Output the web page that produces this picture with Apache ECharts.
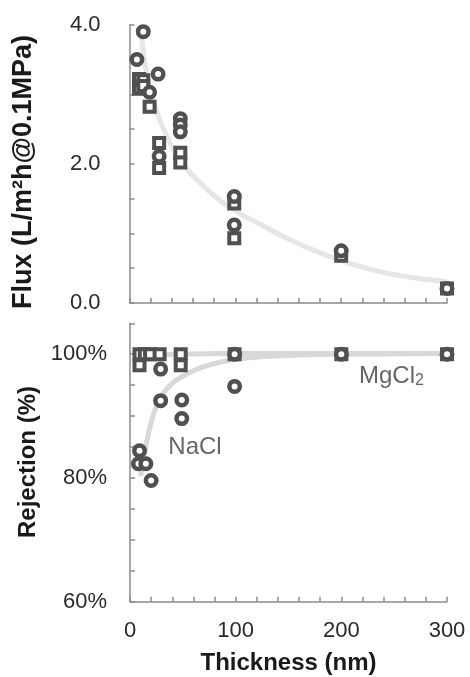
<!DOCTYPE html>
<html>
<head>
<meta charset="utf-8">
<script src="https://cdn.jsdelivr.net/npm/echarts@6/dist/echarts.min.js"></script>
<style>
html,body{margin:0;padding:0;background:#fff;}
#chart{width:470px;height:677px;}
</style>
</head>
<body>
<div id="chart"></div>
<script>
// ---- Data ----
const xTickLabels = [0, 100, 200, 300];
const fluxTickLabels = [0, 2, 4];
const rejTickLabels = [60, 80, 100];

// Top panel: flux vs thickness
const fluxCircles = [[13,3.90],[7,3.50],[27,3.29],[19,3.03],[48,2.65],[48,2.56],[48,2.46],[28,2.11],[99,1.53],[99,1.12],[200,0.75],[300,0.21]];
const fluxSquares = [[9,3.22],[9,3.08],[13,3.20],[13,3.12],[19,2.82],[28,2.30],[28,1.94],[48,2.16],[48,2.02],[99,1.43],[99,0.93],[200,0.68],[300,0.21]];
const fluxTrend = [[11.5,3.80],[15,3.40],[19,3.08],[25,2.78],[30,2.58],[40,2.25],[50,2.00],[70,1.68],[85,1.48],[100,1.32],[120,1.16],[150,0.92],[180,0.72],[210,0.56],[240,0.44],[270,0.36],[300,0.31]];

// Bottom panel: rejection vs thickness
const rejNaCl = [[29,97.6],[29,92.5],[49,92.6],[49,89.6],[99,94.8],[9,84.4],[8,82.3],[15,82.3],[20,79.6],[99,100],[200,100],[300,100]];
const rejMgCl2 = [[9,100],[14,100],[19,100],[28,100],[9,98.2],[48,100],[48,98.2],[99,100],[200,100],[300,100]];
const trendNaCl = [[10,80.3],[13,83.2],[16,86.0],[20,89.0],[25,91.6],[30,93.3],[40,95.3],[55,96.9],[70,98.0],[100,99.2],[150,99.8],[200,100],[300,100.1]];
const trendMgCl2 = [[8,99.1],[15,99.6],[30,99.9],[50,100],[100,100.1],[300,100.1]];

const fluxTitle = 'Flux (L/m\u00B2h@0.1MPa)';
const rejTitle = 'Rejection (%)';
const xTitle = 'Thickness (nm)';

// ---- Styles ----
const FONT = "'Liberation Sans', Arial, Helvetica, sans-serif";
const axisGrey = '#8c8c8c';
const markColor = '#505050';

const chart = echarts.init(document.getElementById('chart'), null, {renderer:'canvas'});

function xAxisCfg(gridIndex, showLabels) {
  return {
    type:'value', gridIndex, min:0, max:300, interval:20,
    axisLine:{show:true, onZero:false, lineStyle:{color:axisGrey, width:1.5}},
    axisTick:{show:true, inside:true, length:5, lineStyle:{color:axisGrey, width:1.5}},
    splitLine:{show:false},
    axisLabel:{show:showLabels, margin:18, fontFamily:FONT, fontSize:22, color:'#2a2a2a',
      showMinLabel:true, showMaxLabel:true,
      formatter:v => xTickLabels.includes(v) ? String(v) : ''}
  };
}

const option = {
  animation:false,
  backgroundColor:'#fff',
  grid:[
    {left:129.5, top:24.7, width:317.5, height:278.3, containLabel:false},
    {left:130, top:323.3, width:317, height:278.4, containLabel:false}
  ],
  xAxis:[xAxisCfg(0,false), xAxisCfg(1,true)],
  yAxis:[
    {type:'value', gridIndex:0, min:0, max:4, interval:0.5,
     axisLine:{show:true, onZero:false, lineStyle:{color:axisGrey, width:1.5}},
     axisTick:{show:true, inside:true, length:5, lineStyle:{color:axisGrey, width:1.5}},
     splitLine:{show:false},
     axisLabel:{margin:29, fontFamily:FONT, fontSize:22, color:'#2a2a2a', showMinLabel:true, showMaxLabel:true,
       formatter:v => fluxTickLabels.includes(v) ? v.toFixed(1) : ''}},
    {type:'value', gridIndex:1, min:60, max:105, interval:5,
     axisLine:{show:true, onZero:false, lineStyle:{color:axisGrey, width:1.5}},
     axisTick:{show:true, inside:true, length:5, lineStyle:{color:axisGrey, width:1.5}},
     splitLine:{show:false},
     axisLabel:{margin:23, fontFamily:FONT, fontSize:22, color:'#2a2a2a', showMinLabel:true, showMaxLabel:true,
       formatter:v => rejTickLabels.includes(v) ? v + '%' : ''}}
  ],
  series:[
    {type:'line', xAxisIndex:0, yAxisIndex:0, data:fluxTrend, smooth:0.4, showSymbol:false, z:1,
     lineStyle:{color:'#e6e6e6', width:5}},
    {type:'scatter', xAxisIndex:0, yAxisIndex:0, data:fluxSquares, symbol:'rect', symbolSize:10, z:3,
     itemStyle:{color:'#fff', borderColor:markColor, borderWidth:4, opacity:1}},
    {type:'scatter', xAxisIndex:0, yAxisIndex:0, data:fluxCircles, symbol:'circle', symbolSize:10.5, z:4,
     itemStyle:{color:'#fff', borderColor:markColor, borderWidth:4.5, opacity:1}},

    {type:'line', xAxisIndex:1, yAxisIndex:1, data:trendMgCl2, smooth:0.4, showSymbol:false, z:1,
     lineStyle:{color:'#d8d8d8', width:5}},
    {type:'line', xAxisIndex:1, yAxisIndex:1, data:trendNaCl, smooth:0.4, showSymbol:false, z:1,
     lineStyle:{color:'#d8d8d8', width:5}},
    {type:'scatter', xAxisIndex:1, yAxisIndex:1, data:rejMgCl2, symbol:'rect', symbolSize:10, z:3,
     itemStyle:{color:'#fff', borderColor:markColor, borderWidth:4, opacity:1}},
    {type:'scatter', xAxisIndex:1, yAxisIndex:1, data:rejNaCl, symbol:'circle', symbolSize:10.5, z:4,
     itemStyle:{color:'#fff', borderColor:markColor, borderWidth:4.5, opacity:1}}
  ],
  graphic:[
    {type:'text', x:24, y:172, rotation:Math.PI/2, z:10,
     style:{text:fluxTitle, font:'bold 27px ' + FONT, fill:'#1a1a1a', textAlign:'center', textVerticalAlign:'middle'}},
    {type:'text', x:28, y:462, rotation:Math.PI/2, z:10,
     style:{text:rejTitle, font:'bold 24px ' + FONT, fill:'#1a1a1a', textAlign:'center', textVerticalAlign:'middle'}},
    {type:'text', x:288.5, y:663, z:10,
     style:{text:xTitle, font:'bold 24px ' + FONT, fill:'#1a1a1a', textAlign:'center', textVerticalAlign:'middle'}},
    {type:'text', x:195, y:447, z:10,
     style:{text:'NaCl', font:'24px ' + FONT, fill:'#666', textAlign:'center', textVerticalAlign:'middle'}},
    {type:'text', x:359, y:376, z:10,
     style:{text:'{a|MgCl}{b|2}', fill:'#666', textVerticalAlign:'middle', textAlign:'left',
       rich:{a:{fontFamily:FONT, fontSize:24, fill:'#666', color:'#666'},
             b:{fontFamily:FONT, fontSize:16, fill:'#666', color:'#666', verticalAlign:'bottom', padding:[10,0,0,0]}}}}
  ]
};
chart.setOption(option);
</script>
</body>
</html>
